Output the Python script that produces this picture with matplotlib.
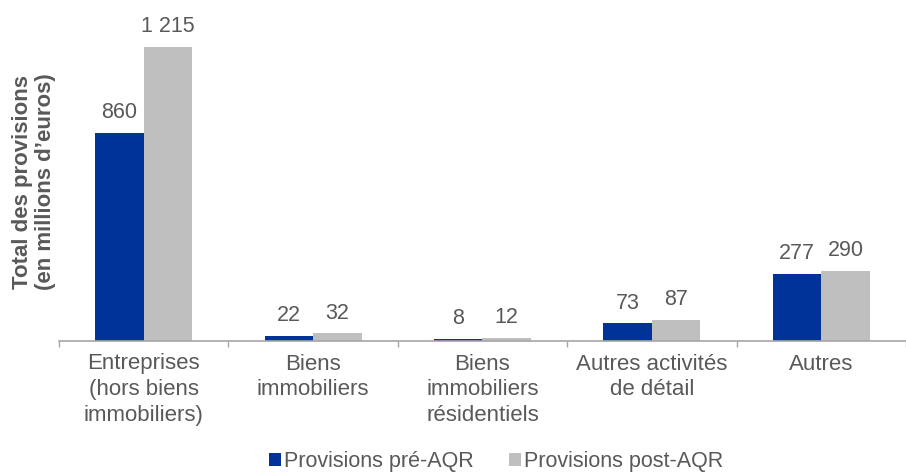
import matplotlib
matplotlib.use('Agg')
import matplotlib.pyplot as plt
import numpy as np

plt.rcParams['font.family'] = ['Liberation Sans', 'DejaVu Sans']

# Données
categories = ['Entreprises\n(hors biens\nimmobiliers)', 'Biens\nimmobiliers',
              'Biens\nimmobiliers\nrésidentiels', 'Autres activités\nde détail', 'Autres']
pre_aqr = [860, 22, 8, 73, 277]
post_aqr = [1215, 32, 12, 87, 290]
labels_pre = ['860', '22', '8', '73', '277']
labels_post = ['1 215', '32', '12', '87', '290']

blue = '#003399'
grey = '#bfbfbf'
txt = '#595959'
font = 16

fig = plt.figure(figsize=(9.06, 4.75), dpi=100)
ax = fig.add_axes([59 / 906, (475 - 341) / 475, 1 - 59 / 906, 341 / 475])

x = np.arange(len(categories))
w = 0.286
b1 = ax.bar(x - w / 2, pre_aqr, w, color=blue, label='Provisions pré-AQR')
b2 = ax.bar(x + w / 2, post_aqr, w, color=grey, label='Provisions post-AQR')

ax.bar_label(b1, labels=labels_pre, padding=7, fontsize=15.5, color=txt)
ax.bar_label(b2, labels=labels_post, padding=7, fontsize=15.5, color=txt)

ax.set_xlim(-0.5, 4.5 - 9 / 171)
ax.set_ylim(0, 1409)

# axe X seulement, avec graduations entre catégories
for s in ['top', 'right', 'left']:
    ax.spines[s].set_visible(False)
ax.spines['bottom'].set_color('#a6a6a6')
ax.spines['bottom'].set_linewidth(1.2)
ax.set_yticks([])
ax.set_xticks(np.arange(len(categories) + 1) - 0.5, minor=False)
ax.set_xticklabels([])
ax.tick_params(axis='x', which='major', length=4, color='#a6a6a6', width=1)
ax.set_xticks(x, minor=True)
ax.set_xticklabels(categories, minor=True, fontsize=font, color=txt, linespacing=1.3)
ax.tick_params(axis='x', which='minor', length=0, pad=9)

fig.text(34 / 906, 1 - 182 / 475, 'Total des provisions\n(en millions d\u2019euros)',
         rotation=90, ha='center', va='center', multialignment='center',
         fontsize=font, fontweight='bold', color=txt, linespacing=1.15)

leg = fig.legend(loc='center', bbox_to_anchor=(496 / 906, 1 - 462 / 475), ncol=2,
                 frameon=False, fontsize=15.5, handlelength=0.55, handleheight=0.55,
                 handletextpad=0.15, columnspacing=1.65, labelcolor=txt)

fig.savefig('out.png', dpi=100)
